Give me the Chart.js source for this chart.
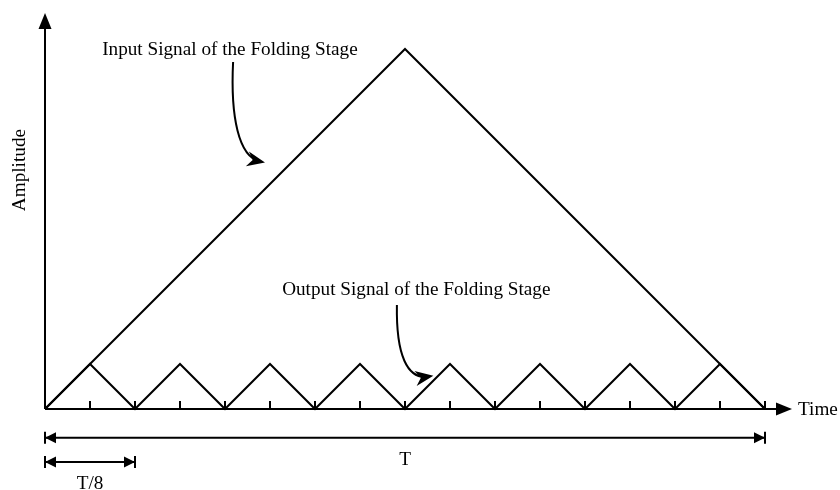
<!DOCTYPE html>
<html>
<head>
<meta charset="utf-8">
<script src="https://cdn.jsdelivr.net/npm/chart.js@4/dist/chart.umd.min.js"></script>
<style>
body { margin: 0; background: #fff; }
#wrap { width: 840px; height: 490px; }
</style>
</head>
<body>
<div id="wrap"><canvas id="fold" width="840" height="490"></canvas></div>
<script>
// time in units of T/16, amplitude in the same units
var inputTime = [0, 8, 16];
var inputAmp = [0, 8, 0];
var outputTime = [0, 1, 2, 3, 4, 5, 6, 7, 8, 9, 10, 11, 12, 13, 14, 15, 16];
var outputAmp = [0, 1, 0, 1, 0, 1, 0, 1, 0, 1, 0, 1, 0, 1, 0, 1, 0];
var tickTime = [1, 2, 3, 4, 5, 6, 7, 8, 9, 10, 11, 12, 13, 14, 15, 16];
var periodEnd = 16;   // T
var foldEnd = 2;      // T/8

function toPoints(xs, ys) {
  var pts = [];
  for (var i = 0; i < xs.length; i++) pts.push({x: xs[i], y: ys[i]});
  return pts;
}

var serif = '"Liberation Serif", "DejaVu Serif", serif';

// garamond-ish: a touch wider than times
function label(ctx, text, x, y, align, rot) {
  ctx.save();
  ctx.translate(x, y);
  if (rot) ctx.rotate(rot);
  ctx.scale(1.067, 1);
  ctx.textAlign = align;
  ctx.fillText(text, 0, 0);
  ctx.restore();
}

function arrowHead(ctx, x, y, ang, len, half) {
  ctx.save();
  ctx.translate(x, y);
  ctx.rotate(ang);
  ctx.beginPath();
  ctx.moveTo(0, 0);
  ctx.lineTo(-len, -half);
  ctx.lineTo(-len * 0.7, 0);
  ctx.lineTo(-len, half);
  ctx.closePath();
  ctx.fill();
  ctx.restore();
}

function dimArrow(ctx, x1, x2, y) {
  ctx.beginPath();
  ctx.moveTo(x1, y); ctx.lineTo(x2, y);
  ctx.moveTo(x1, y - 6); ctx.lineTo(x1, y + 6);
  ctx.moveTo(x2, y - 6); ctx.lineTo(x2, y + 6);
  ctx.stroke();
  [[x1, Math.PI], [x2, 0]].forEach(function (e) {
    ctx.save();
    ctx.translate(e[0], y);
    ctx.rotate(e[1]);
    ctx.beginPath();
    ctx.moveTo(0, 0); ctx.lineTo(-11, -5.5); ctx.lineTo(-11, 5.5);
    ctx.closePath(); ctx.fill();
    ctx.restore();
  });
}

function curvedArrow(ctx, p0, c1, c2, p1) {
  ctx.beginPath();
  ctx.moveTo(p0[0], p0[1]);
  ctx.bezierCurveTo(c1[0], c1[1], c2[0], c2[1], p1[0], p1[1]);
  ctx.stroke();
  var ang = Math.atan2(p1[1] - c2[1], p1[0] - c2[0]);
  arrowHead(ctx, p1[0] + Math.cos(ang) * 5, p1[1] + Math.sin(ang) * 5, ang, 18, 7.5);
}

var sketch = {
  id: 'sketch',
  afterDatasetsDraw: function (chart) {
    var ctx = chart.ctx;
    var xs = chart.scales.x, ys = chart.scales.y;
    var X = function (v) { return xs.getPixelForValue(v); };
    var Y = function (v) { return ys.getPixelForValue(v); };
    var ox = X(0), oy = Y(0);
    ctx.save();
    ctx.strokeStyle = '#000';
    ctx.fillStyle = '#000';
    ctx.lineWidth = 2;
    ctx.lineCap = 'butt';

    // axes
    ctx.beginPath();
    ctx.moveTo(ox, oy); ctx.lineTo(xs.right - 8, oy);
    ctx.moveTo(ox, oy); ctx.lineTo(ox, ys.top + 8);
    ctx.stroke();
    ctx.beginPath();
    ctx.moveTo(xs.right, oy); ctx.lineTo(xs.right - 16, oy - 6.5); ctx.lineTo(xs.right - 16, oy + 6.5);
    ctx.closePath(); ctx.fill();
    ctx.beginPath();
    ctx.moveTo(ox, ys.top); ctx.lineTo(ox - 6.5, ys.top + 16); ctx.lineTo(ox + 6.5, ys.top + 16);
    ctx.closePath(); ctx.fill();

    // ticks
    ctx.beginPath();
    tickTime.forEach(function (t) {
      ctx.moveTo(X(t), oy); ctx.lineTo(X(t), oy - 8);
    });
    ctx.stroke();

    // dimension arrows
    dimArrow(ctx, X(0), X(periodEnd), Y(-0.64));
    dimArrow(ctx, X(0), X(foldEnd), Y(-1.18));

    // curved pointers
    curvedArrow(ctx, [X(4.18), Y(7.71)], [X(4.12), Y(6.5)], [X(4.3), Y(5.6)], [X(4.78), Y(5.5)]);
    curvedArrow(ctx, [X(7.82), Y(2.31)], [X(7.8), Y(1.2)], [X(8.05), Y(0.65)], [X(8.52), Y(0.72)]);

    // text
    ctx.font = '18px ' + serif;
    ctx.textBaseline = 'alphabetic';
    label(ctx, 'Input Signal of the Folding Stage', X(1.27), Y(7.87), 'left');
    label(ctx, 'Output Signal of the Folding Stage', X(5.27), Y(2.53), 'left');
    label(ctx, 'Time', xs.right + 6, oy + 6, 'left');
    label(ctx, 'T', X(periodEnd / 2), Y(-1.24), 'center');
    label(ctx, 'T/8', X(foldEnd / 2), Y(-1.78), 'center');
    label(ctx, 'Amplitude', 25, Y(5.31), 'center', -Math.PI / 2);
    ctx.restore();
  }
};

new Chart(document.getElementById('fold').getContext('2d'), {
  type: 'scatter',
  data: {
    datasets: [{
      label: 'Input Signal of the Folding Stage',
      data: toPoints(inputTime, inputAmp),
      showLine: true,
      borderColor: '#000',
      borderWidth: 2,
      pointRadius: 0,
      tension: 0
    }, {
      label: 'Output Signal of the Folding Stage',
      data: toPoints(outputTime, outputAmp),
      showLine: true,
      borderColor: '#000',
      borderWidth: 2,
      pointRadius: 0,
      tension: 0
    }]
  },
  options: {
    responsive: false,
    animation: false,
    clip: false,
    layout: {padding: {left: 45, top: 13, right: 48, bottom: 81}},
    plugins: {legend: {display: false}, tooltip: {enabled: false}},
    scales: {
      x: {type: 'linear', min: 0, max: 16.6, display: false},
      y: {type: 'linear', min: 0, max: 8.8, display: false}
    }
  },
  plugins: [sketch]
});
</script>
</body>
</html>
